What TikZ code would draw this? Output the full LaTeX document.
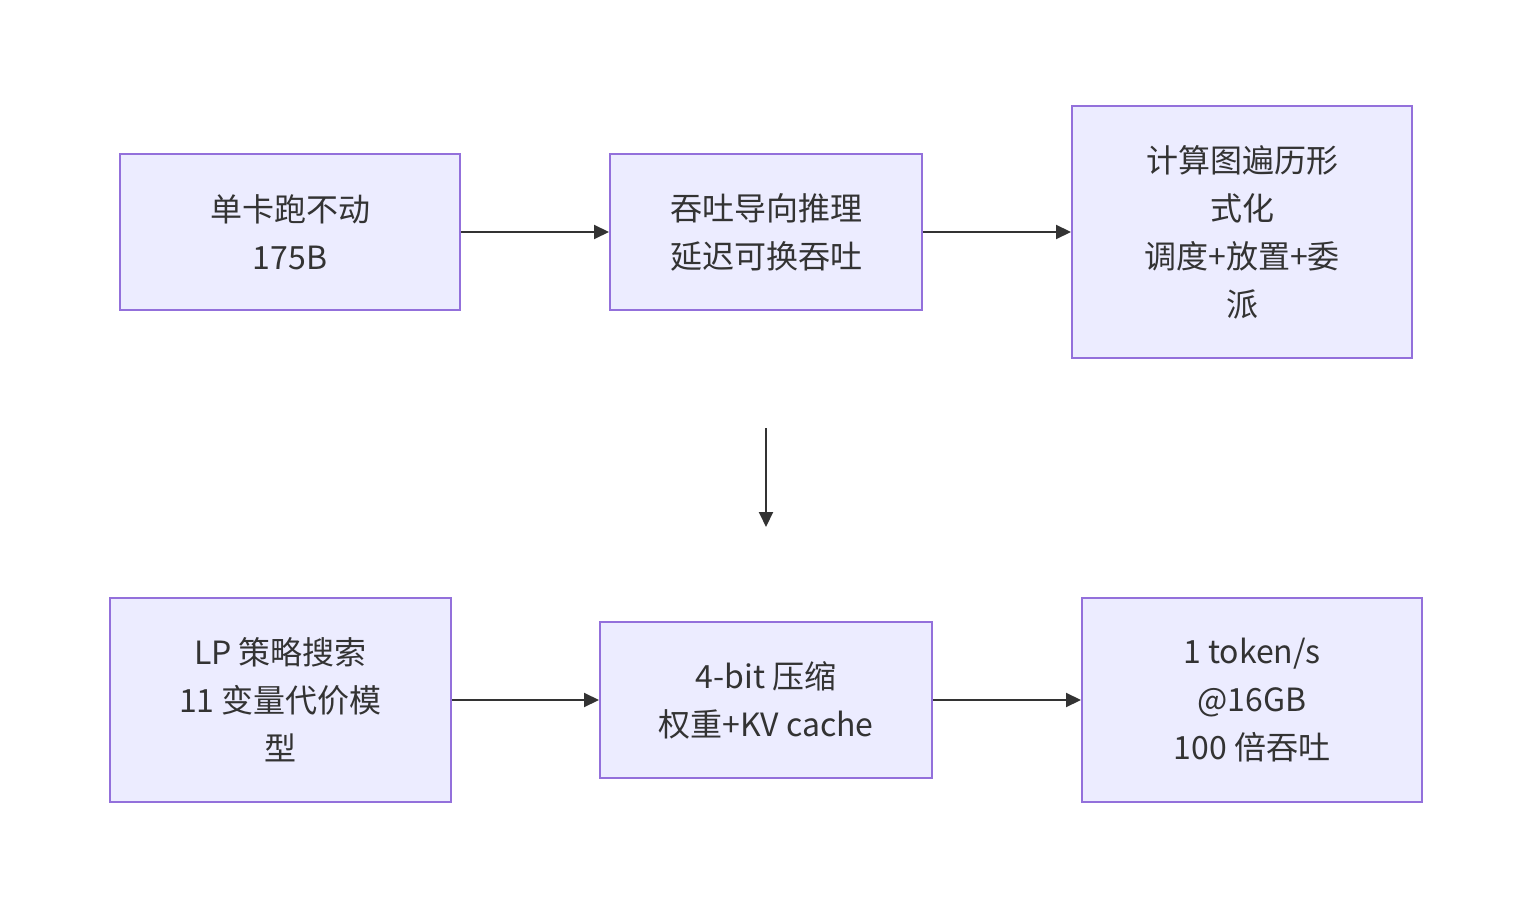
\documentclass[tikz,border=0pt]{standalone}
\usepackage{fontspec}
\setmainfont{Noto Sans CJK SC}
\usetikzlibrary{positioning,arrows.meta}

\definecolor{boxfill}{HTML}{ECECFF}
\definecolor{boxline}{HTML}{9370DB}
\definecolor{inkgray}{HTML}{333333}

\begin{document}
\begin{tikzpicture}[
  font=\fontsize{16pt}{24pt}\selectfont,
  box/.style={draw=boxline, line width=1pt, fill=boxfill, text=inkgray,
    align=center, inner sep=0pt, minimum height=78pt},
  arr/.style={-{Triangle[length=7.5pt,width=7pt]}, line width=1pt, draw=inkgray}
]
\useasboundingbox (0,0) rectangle (767pt,-454pt);

\node[box, minimum width=170pt] (b1) at (145pt,-116pt) {单卡跑不动\\175B};
\node[box, minimum width=156pt, right=74pt of b1] (b2) {吞吐导向推理\\延迟可换吞吐};
\node[box, minimum width=170pt, minimum height=126pt, right=74pt of b2] (b3)
  {计算图遍历形\\式化\\调度+放置+委\\派};

\node[box, minimum width=166pt, below=155pt of b2] (b5) {4-bit 压缩\\权重+KV cache};
\node[box, minimum width=170.5pt, minimum height=102pt, left=73.5pt of b5] (b4)
  {LP 策略搜索\\11 变量代价模\\型};
\node[box, minimum width=170pt, minimum height=102pt, right=74pt of b5] (b6)
  {1 token/s\\@16GB\\100 倍吞吐};

\draw[arr] (b1) -- (b2);
\draw[arr] (b2) -- (b3);

\coordinate[below=58.5pt of b2.south] (down1);
\coordinate[below=108pt of b2.south] (down2);
\draw[arr] (down1) -- (down2);

\draw[arr] (b4) -- (b5);
\draw[arr] (b5) -- (b6);

\end{tikzpicture}
\end{document}
